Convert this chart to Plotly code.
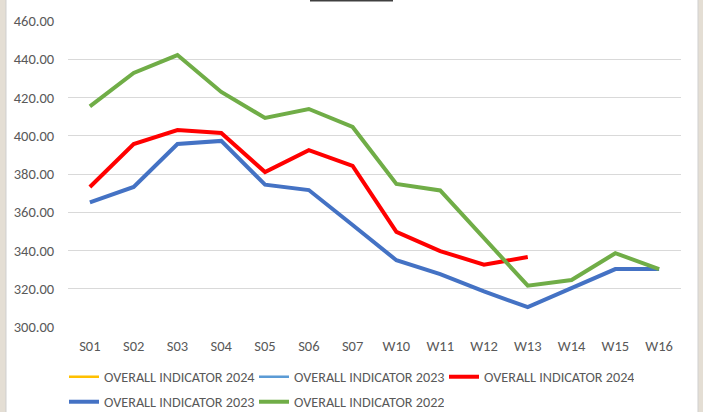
import plotly.graph_objects as go

categories = ["S01", "S02", "S03", "S04", "S05", "S06", "S07", "W10", "W11", "W12", "W13", "W14", "W15", "W16"]
empty_2024 = [None] * 14
empty_2023 = [None] * 14
ind_2024 = [373.2, 395.7, 403.0, 401.4, 381.0, 392.5, 384.2, 349.7, 339.7, 332.6, 336.6, None, None, None]
ind_2023 = [365.2, 373.2, 395.7, 397.3, 374.4, 371.6, 353.3, 334.9, 327.6, 318.6, 310.4, 320.6, 330.3, 330.3]
ind_2022 = [415.4, 432.8, 442.2, 422.9, 409.3, 414.0, 404.6, 374.8, 371.4, 346.6, 321.6, 324.6, 338.6, 330.3]
y_ticks = [300, 320, 340, 360, 380, 400, 420, 440, 460]

FONT = "Carlito, 'Liberation Sans Narrow', 'DejaVu Sans Condensed', 'Open Sans', sans-serif"
FS = 14.5
LFS = 14.2
GREY = "#595959"

fig = go.Figure()
fig.add_trace(go.Scatter(x=categories, y=empty_2024, name="OVERALL INDICATOR 2024", mode="lines",
                         line=dict(color="#FFC000", width=2.5), legend="legend"))
fig.add_trace(go.Scatter(x=categories, y=empty_2023, name="OVERALL INDICATOR 2023", mode="lines",
                         line=dict(color="#5B9BD5", width=2.5), legend="legend"))
fig.add_trace(go.Scatter(x=categories, y=ind_2024, name="OVERALL INDICATOR 2024", mode="lines",
                         line=dict(color="#FF0000", width=4), legend="legend"))
fig.add_trace(go.Scatter(x=categories, y=ind_2023, name="OVERALL INDICATOR 2023", mode="lines",
                         line=dict(color="#4472C4", width=4), legend="legend2"))
fig.add_trace(go.Scatter(x=categories, y=ind_2022, name="OVERALL INDICATOR 2022", mode="lines",
                         line=dict(color="#70AD47", width=4), legend="legend2"))

L, R, T, B = 68, 22, 21, 85
W, H = 703, 412
pw, ph = W - L - R, H - T - B

def px(x):
    return (x - L) / pw

def py(y):
    return (H - B - y) / ph

legend_common = dict(orientation="h", xanchor="left", yanchor="middle",
                     font=dict(family=FONT, size=LFS, color=GREY),
                     entrywidth=145, itemwidth=30, bgcolor="rgba(0,0,0,0)",
                     borderwidth=0)

fig.update_layout(
    width=W, height=H,
    margin=dict(l=L, r=R, t=T, b=B, autoexpand=False),
    paper_bgcolor="#e4ded4",
    plot_bgcolor="white",
    font=dict(family=FONT, size=FS, color=GREY),
    showlegend=True,
    legend=dict(x=px(64), y=py(377), **legend_common),
    legend2=dict(x=px(64), y=py(402), **legend_common),
    xaxis=dict(type="category", range=[-0.5, 13.5], showgrid=False, showline=False,
               ticks="outside", ticklen=6, tickcolor="rgba(0,0,0,0)",
               tickfont=dict(family=FONT, size=FS, color=GREY)),
    yaxis=dict(range=[300, 460], tickvals=y_ticks, tickformat=".2f",
               showgrid=True, gridcolor="#d9d9d9", gridwidth=1, zeroline=False,
               showline=False, ticks="outside", ticklen=10, tickcolor="rgba(0,0,0,0)",
               tickfont=dict(family=FONT, size=FS, color=GREY)),
    shapes=[
        dict(type="rect", xref="paper", yref="paper", layer="below",
             x0=px(6), x1=px(698), y0=py(415), y1=py(-3),
             fillcolor="white", line=dict(color="#cfcfcf", width=1)),
        dict(type="line", xref="paper", yref="paper",
             x0=px(310), x1=px(393), y0=py(0.5), y1=py(0.5),
             line=dict(color="#404040", width=2)),
    ],
)

fig.write_html("out.html", config={"displayModeBar": False})

with open("out.html", "r", encoding="utf-8") as f:
    html = f.read()
html = html.replace("<body>", '<body style="margin:0;padding:0;overflow:hidden">', 1)
with open("out.html", "w", encoding="utf-8") as f:
    f.write(html)
